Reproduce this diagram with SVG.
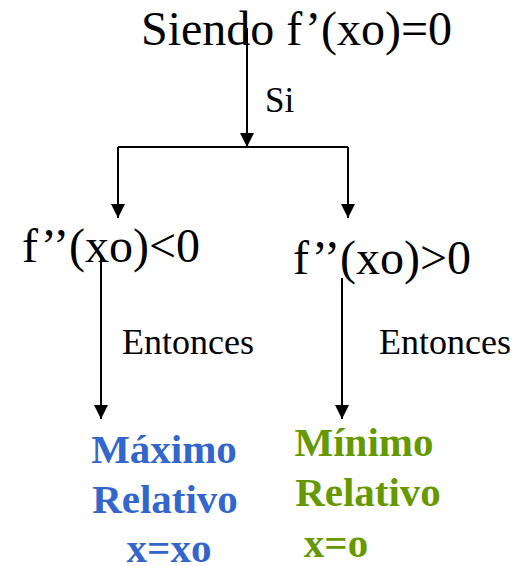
<svg xmlns="http://www.w3.org/2000/svg" width="527" height="566" viewBox="0 0 527 566">
  <style>
    .t { fill: #000; }
    .big { font-size: 48px; }
    .lbl { font-size: 36px; }
    .res { font-size: 41px; font-weight: bold; text-anchor: middle; }
    .max { fill: #3366CC; }
    .min { fill: #669900; }
    .ln { stroke: #000; stroke-width: 2; fill: none; }
  </style>
  <defs>
    <marker id="ah" markerUnits="userSpaceOnUse" markerWidth="16" markerHeight="16" viewBox="0 0 16 16" refX="14" refY="8" orient="auto">
      <path d="M0,1 L14,8 L0,15 Z" fill="#000"/>
    </marker>
  </defs>
  <rect width="527" height="566" fill="#fff"/>

  <g font-family="Liberation Serif, serif">
  <g id="start">
    <text class="t big" x="141" y="45">Siendo f’(xo)=0</text>
  </g>
  <g id="cond-neg">
    <text class="t big" x="22" y="262">f’’(xo)&lt;0</text>
  </g>
  <g id="cond-pos">
    <text class="t big" x="293" y="274">f’’(xo)&gt;0</text>
  </g>
  <g id="maximo">
    <text class="res max" x="164" y="463">Máximo</text>
    <text class="res max" x="165" y="513">Relativo</text>
    <text class="res max" x="169" y="562">x=xo</text>
  </g>
  <g id="minimo">
    <text class="res min" x="364" y="456">Mínimo</text>
    <text class="res min" x="368" y="506">Relativo</text>
    <text class="res min" x="336" y="557">x=o</text>
  </g>

  <g id="connectors">
    <line class="ln" x1="247" y1="28" x2="247" y2="147" marker-end="url(#ah)"/>
    <text class="t" x="265" y="112" font-size="35">Si</text>
    <line class="ln" x1="118" y1="147" x2="348" y2="147"/>
    <line class="ln" x1="118" y1="147" x2="118" y2="218" marker-end="url(#ah)"/>
    <line class="ln" x1="348" y1="147" x2="348" y2="218" marker-end="url(#ah)"/>
    <line class="ln" x1="101" y1="256" x2="101" y2="419" marker-end="url(#ah)"/>
    <text class="t lbl" x="122" y="354">Entonces</text>
    <line class="ln" x1="342" y1="278" x2="342" y2="419" marker-end="url(#ah)"/>
    <text class="t lbl" x="379" y="354">Entonces</text>
  </g>
  </g>
</svg>
